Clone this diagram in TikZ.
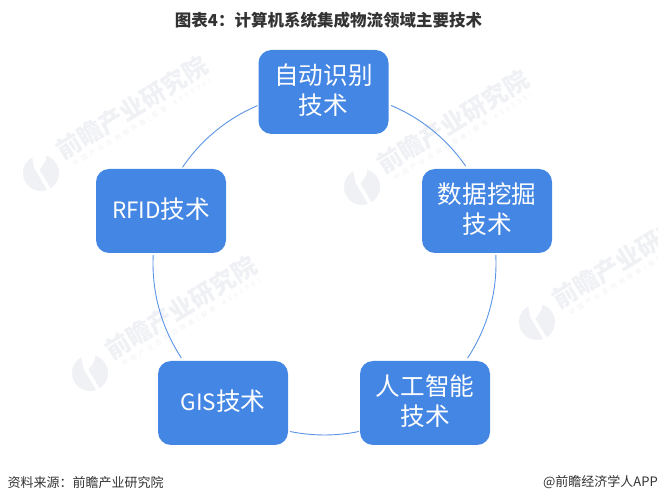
\documentclass[tikz,border=0pt]{standalone}
\usepackage{fontspec}
\setmainfont{Noto Sans CJK SC}
\usetikzlibrary{calc}
\definecolor{boxblue}{HTML}{4486E4}
\definecolor{ringblue}{HTML}{5A94E6}
\definecolor{markgray}{HTML}{EFF1F5}
\definecolor{inkgray}{HTML}{333333}
\newcommand{\boxlines}[1]{\raisebox{-2pt}[\height][\depth]{\begin{tabular}{@{}c@{}}#1\end{tabular}}}
\newcommand{\latinpart}[1]{{\fontsize{22.5}{30}\selectfont #1}}
\tikzset{
  techbox/.style={fill=boxblue, rounded corners=13pt, minimum width=130pt, minimum height=84pt, inner sep=0pt, text=white, font=\fontsize{24.6}{30}\selectfont},
  ringarc/.style={draw=ringblue, line width=0.9pt},
  marktext/.style={text=markgray, rotate=31.6, inner sep=0pt, font=\fontsize{24.5}{25}\selectfont\bfseries},
  marksub/.style={text=markgray, rotate=31.6, inner sep=0pt, font=\fontsize{6.5}{7}\selectfont\addfontfeature{LetterSpace=50}},
  footnote/.style={text=inkgray, inner sep=0pt, font=\fontsize{13}{13}\selectfont}
}
\begin{document}
\begin{tikzpicture}[x=1pt, y=1pt]
\useasboundingbox (0,0) rectangle (658,503);
\pgfmathsetmacro{\ringR}{171.5}
\coordinate (ring) at (324.5,239.5);

% Watermarks
\begin{scope}
\clip (0,0) rectangle (658,503);
\foreach \i/\xM/\yM in {1/41/330, 2/362/316, 3/90/130, 4/537/181}{
  \coordinate (logo\i) at (\xM,\yM);
  \fill[markgray] (logo\i) circle (18);
  \fill[white] ($(logo\i)+(-9,17)$) -- ($(logo\i)+(5,19)$) -- ($(logo\i)+(5,14.3)$) -- ($(logo\i)+(3.3,10)$) -- ($(logo\i)+(-1.7,3.3)$) -- ($(logo\i)+(10,-16)$) -- ($(logo\i)+(6.7,-18)$) -- ($(logo\i)+(-6.7,5)$) -- cycle;
  \node[marktext] (mark\i) at ($(logo\i)+(91,65)$) {前瞻产业研究院};
  \node[marksub] (marksub\i) at ($(logo\i)+(101,50)$) {中国产业咨询领导者(股票:839599)};
}
\end{scope}

% Ring pieces between the boxes
\foreach \name/\aStart/\aEnd in {a/67.1/34.6, b/2.8/-33.5, c/-78.4/-101.6, d/213.4/177.2, e/145.9/113}{
  \coordinate (arc\name) at ($(ring)+(\aStart:\ringR)$);
  \draw[ringarc] (arc\name) arc[start angle=\aStart, end angle=\aEnd, radius=\ringR];
}

% Boxes
\node[techbox] (autoid) at (323.5,411) {\boxlines{自动识别\\技术}};
\node[techbox] (mining) at (487,292) {\boxlines{数据挖掘\\技术}};
\node[techbox] (smart) at (425,100) {\boxlines{人工智能\\技术}};
\node[techbox] (gis) at (223,100) {\boxlines{\latinpart{GIS}技术}};
\node[techbox] (rfid) at (161,292) {\boxlines{\latinpart{RFID}技术}};

% Title and source lines
\node[text=inkgray, inner sep=0pt, font=\fontsize{16.5}{17}\selectfont\bfseries] (title) at (328.5,483) {图表4：计算机系统集成物流领域主要技术};
\node[footnote, anchor=west] (source) at (7.5,20.5) {资料来源：前瞻产业研究院};
\node[footnote, anchor=east] (brand) at (658,20.5) {@前瞻经济学人APP};
\end{tikzpicture}
\end{document}
